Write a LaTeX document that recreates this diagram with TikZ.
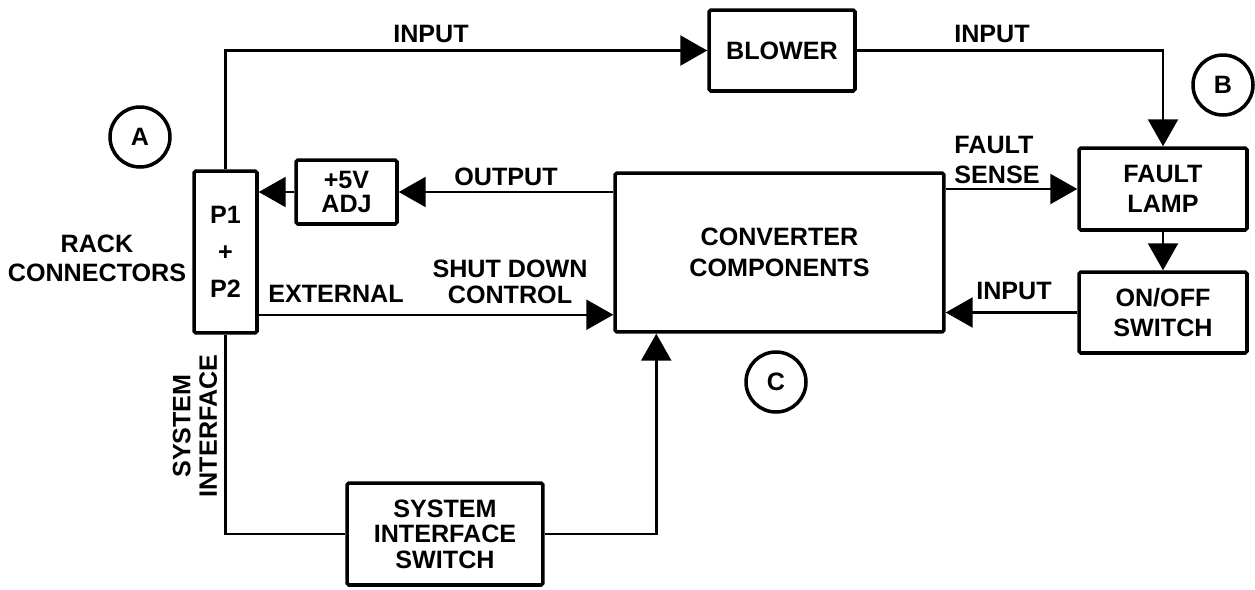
\documentclass[tikz,border=0pt]{standalone}
\usepackage{fontspec}
\setmainfont{Liberation Sans}
\usepackage{tikz}
\usetikzlibrary{arrows.meta,positioning,calc}
\newcommand\lbl[1][17]{\fontsize{14.3}{#1}\selectfont\bfseries}
\tikzset{
  blk/.style 2 args={rectangle, rounded corners=1pt, draw, line width=2pt, align=center,
                     font=\lbl, minimum width=#1, minimum height=#2, inner sep=0pt},
  tag/.style={circle, draw, line width=2pt, minimum size=1.2cm, inner sep=0pt, font=\lbl},
  lab/.style={align=center, font=\lbl, inner sep=0pt},
  wire/.style={line width=1.4pt},
  arr/.style={-{Triangle[length=0.54cm,width=0.6cm]}, line width=1.4pt},
}

\begin{document}
\begin{tikzpicture}[x=0.02cm, y=-0.02cm]
  \useasboundingbox (0,0) rectangle (1255,589);
  % blocks
  \node[blk={1.26cm}{3.24cm}, font={\lbl[21]}] (pp) at (225.5,252) {P1\\+\\P2};
  \node[blk={2.92cm}{1.62cm}] (blow) at (782,50.5) {BLOWER};
  \node[blk={2.02cm}{1.28cm}, font={\lbl[13.6]}] (adj) at (346.5,192) {+5V\\ADJ};
  \node[blk={6.58cm}{3.18cm}, font={\lbl[18]}] (conv) at (779.5,252.5) {CONVERTER\\COMPONENTS};
  \node[blk={3.36cm}{1.64cm}] (lamp) at (1163,189) {FAULT\\LAMP};
  \node[blk={3.36cm}{1.62cm}] (onoff) at (1163,312.5) {ON/OFF\\SWITCH};
  \node[blk={3.92cm}{2.04cm}, font={\lbl[14.5]}] (sis) at (445,534) {SYSTEM\\INTERFACE\\SWITCH};
  % circled letters
  \node[tag] (ta) at (140,137) {A};
  \node[tag] (tb) at (1223,85) {B};
  \node[tag] (tc) at (776,382) {C};
  % connectors
  \coordinate (ext) at ($(pp.south east)+(0,-20)$);
  \coordinate (cin) at ($(conv.south west)+(43,0)$);
  \draw[arr] (pp.north) |- (blow.west);
  \draw[arr] (blow.east) -| (lamp.north);
  \draw[arr] (adj.east -| conv.west) -- (adj.east);
  \draw[arr] (adj.west) -- (adj.west -| pp.east);
  \draw[arr] (conv.east |- lamp.west) -- (lamp.west);
  \draw[arr] (lamp.south) -- (onoff.north);
  \draw[arr] (onoff.west) -- (onoff.west -| conv.east);
  \draw[arr] (ext) -- (ext -| conv.west);
  \draw[wire] (pp.south) |- (sis.west);
  \draw[arr] (sis.east) -| (cin);
  % labels
  \node[lab] (l1) at (431,34) {INPUT};
  \node[lab] (l2) at (992,34) {INPUT};
  \node[lab] (l3) at (506,177) {OUTPUT};
  \node[lab, align=left] (l4) at (997,160) {FAULT\\SENSE};
  \node[lab] (l5) at (1014,291) {INPUT};
  \node[lab] (l6) at (336,294) {EXTERNAL};
  \node[lab, font={\lbl[15]}] (l7) at (510,282) {SHUT DOWN\\CONTROL};
  \node[lab, font={\lbl[16.4]}] (l8) at (97,258) {RACK\\CONNECTORS};
  \node[lab, rotate=90, font={\lbl[15]}] (l9) at (195,426) {SYSTEM\\INTERFACE};
\end{tikzpicture}
\end{document}
